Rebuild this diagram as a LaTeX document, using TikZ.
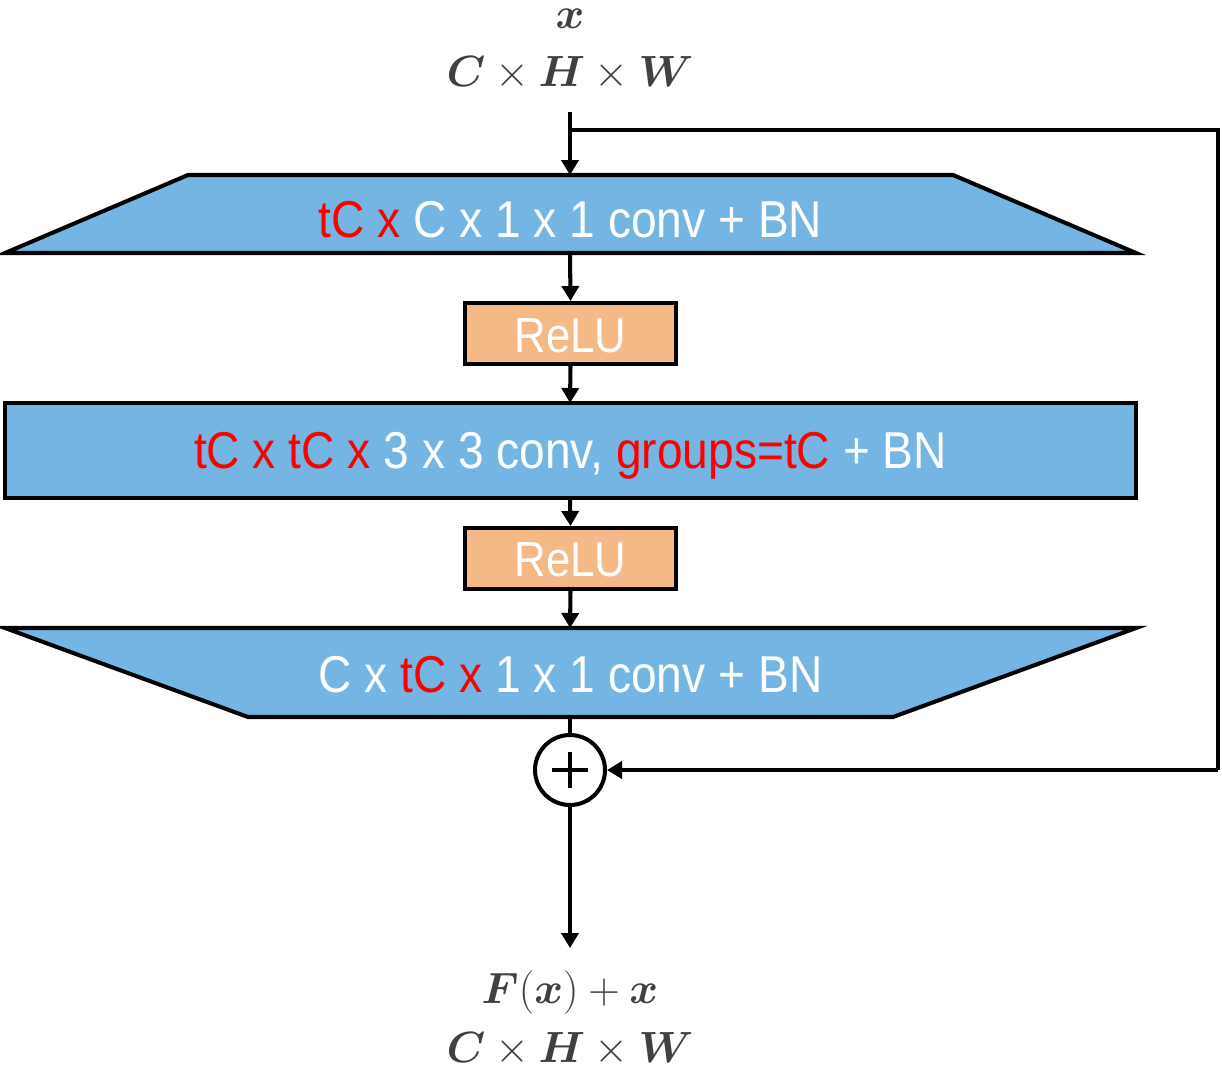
\documentclass[tikz,border=0pt]{standalone}
\usepackage{amsmath}
\usepackage{bm}
\usepackage{fontspec}
\setsansfont[FakeStretch=0.89]{Liberation Sans}
\usetikzlibrary{arrows.meta}
\definecolor{blk}{HTML}{75B5E3}
\definecolor{org}{HTML}{F4B987}
\definecolor{mathgray}{HTML}{404040}
\definecolor{rd}{HTML}{FF0000}
\newcommand{\bigfont}{\fontsize{29.5}{36}\selectfont}
\newcommand{\relufont}{\fontsize{28}{34}\selectfont}
\newcommand{\mathfontsz}{\fontsize{28}{32}\selectfont}
\tikzset{
  lw/.style={line width=2.3pt},
  conv/.style={lw, draw=black, fill=blk},
  relubox/.style={lw, draw=black, fill=org, minimum width=4.22cm, minimum height=1.22cm, inner sep=0pt},
  relutxt/.style={text=white, font=\sffamily\relufont, inner sep=0pt, anchor=base},
  lbl/.style={text=white, font=\sffamily\bigfont, inner sep=0pt, anchor=base},
  mtxt/.style={text=mathgray, font=\mathfontsz, inner sep=0pt},
  arr/.style={lw, -{Triangle[length=0.3cm,width=0.34cm]}},
}
\begin{document}
\begin{tikzpicture}
\begin{scope}[x=0.02cm,y=-0.02cm]
\path[use as bounding box] (0,0) rectangle (1222,1069);
% top labels
\node[mtxt] (xin) at (570,19) {$\bm{x}$};
\node[mtxt] (din) at (570,73) {$\bm{C}\times\bm{H}\times\bm{W}$};
% shapes
\draw[conv] (188,175) -- (953,175) -- (1136,253) -- (5,253) -- cycle;
\node[lbl] (t1) at (570.5,237) {\textcolor{rd}{tC x} C x 1 x 1 conv + BN};
\node[relubox] (r1) at (570.5,333.5) {};
\node[relutxt] (r1t) at (570.5,352) {ReLU};
\draw[conv] (5,403) rectangle (1136,498);
\node[lbl] (t2) at (570.5,468) {\textcolor{rd}{tC x tC x} 3 x 3 conv, \textcolor{rd}{groups=tC} + BN};
\node[relubox] (r2) at (570.5,558.5) {};
\node[relutxt] (r2t) at (570.5,576) {ReLU};
\draw[conv] (5,628) -- (1136,628) -- (893,717) -- (248,717) -- cycle;
\node[lbl] (t3) at (570.5,692) {C x \textcolor{rd}{tC x} 1 x 1 conv + BN};
\node[lw, draw=black, fill=white, circle, minimum size=1.4cm, inner sep=0pt] (plus) at (570,770) {};
\draw[line width=2pt] ([xshift=-0.36cm]plus.center) -- ([xshift=0.36cm]plus.center);
\draw[line width=2pt] ([yshift=-0.36cm]plus.center) -- ([yshift=0.36cm]plus.center);
% coordinates
\coordinate (start) at (570,112);
\coordinate (c1t) at (570,175);
\coordinate (c1b) at (570,253);
\coordinate (c2t) at (570,403);
\coordinate (c2b) at (570,498);
\coordinate (c3t) at (570,628);
\coordinate (c3b) at (570,717);
\coordinate (skipa) at (570,130);
\coordinate (skipb) at (1218,130);
\coordinate (skipc) at (1218,770);
\coordinate (outend) at (570,948);
% connectors
\draw[arr] (start) -- (c1t);
\draw[arr] (c1b) -- (r1.north);
\draw[arr] (r1.south) -- (c2t);
\draw[arr] (c2b) -- (r2.north);
\draw[arr] (r2.south) -- (c3t);
\draw[lw] (c3b) -- (plus.north);
\draw[lw, line join=miter] (skipa) -- (skipb) -- (skipc);
\draw[arr] (skipc) -- (plus.east);
\draw[arr] (plus.south) -- (outend);
% bottom labels
\node[mtxt] (fout) at (570,993) {$\bm{F}(\bm{x})+\bm{x}$};
\node[mtxt] (dout) at (570,1049) {$\bm{C}\times\bm{H}\times\bm{W}$};
\end{scope}
\end{tikzpicture}
\end{document}
